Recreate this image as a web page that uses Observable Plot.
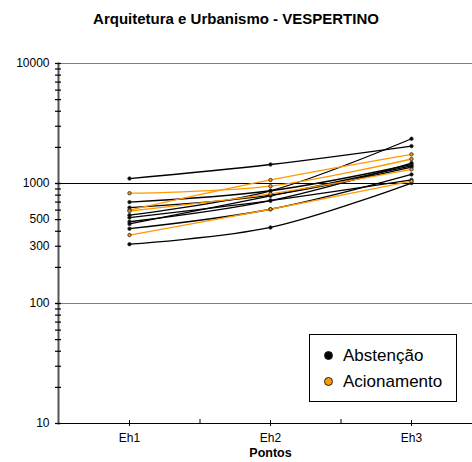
<!DOCTYPE html>
<html>
<head>
<meta charset="utf-8">
<script src="https://cdn.jsdelivr.net/npm/d3@7"></script>
<script src="https://cdn.jsdelivr.net/npm/@observablehq/plot@0.6"></script>
<style>
  html, body { margin: 0; padding: 0; background: #fff; }
  #wrap { position: relative; width: 472px; height: 462px; font-family: "Liberation Sans", Arial, sans-serif; overflow: hidden; }
  #title { position: absolute; left: 0; top: 10px; width: 472px; text-align: center; font-weight: bold; font-size: 15px; line-height: 18px; color: #000; }
  #legend { position: absolute; left: 309px; top: 334px; width: 146px; height: 66px; border: 1px solid #000; background: #fff; }
  .item { position: absolute; left: 14px; font-size: 17px; line-height: 20px; color: #000; white-space: nowrap; }
  .sw { display: inline-block; width: 9px; height: 9px; border-radius: 50%; margin-right: 10px; vertical-align: 1px; box-sizing: border-box; }
</style>
</head>
<body>
<div id="wrap">
  <div id="chart"></div>
  <div id="title">Arquitetura e Urbanismo - VESPERTINO</div>
  <div id="legend"></div>
</div>
<script>
const categories = ["Eh1", "Eh2", "Eh3"];
const seriesNames = ["Abstenção", "Acionamento"];
const seriesColors = ["#000000", "#FF9900"];
const abstencao = [
  [1100, 1440, 2050],
  [700, 870, 1440],
  [630, 800, 1370],
  [545, 870, 2360],
  [480, 720, 1480],
  [460, 790, 1400],
  [420, 610, 1190],
  [520, 720, 1070],
  [312, 430, 1008]
];
const acionamento = [
  [830, 950, 1600],
  [600, 1070, 1750],
  [590, 820, 1310],
  [372, 610, 1045]
];
const yTickLabels = [10, 100, 300, 500, 1000, 10000];

const rows = [];
[abstencao, acionamento].forEach((group, gi) => {
  group.forEach((vals, si) => {
    vals.forEach((v, ci) => rows.push({serie: seriesNames[gi], id: seriesNames[gi] + si, x: categories[ci], y: v}));
  });
});

const minorTicks = [];
for (const d of [10, 100, 1000]) for (let k = 1; k <= 10; k++) minorTicks.push(d * k);

const font = "'Liberation Sans', Arial, sans-serif";
const xRange = [58, 481];
const step = (xRange[1] - xRange[0]) / categories.length;

const chart = Plot.plot({
  width: 472,
  height: 462,
  marginLeft: 58,
  marginRight: 0,
  marginTop: 63,
  marginBottom: 39,
  style: {fontFamily: font, fontSize: "12px", background: "#fff", color: "#000"},
  x: {type: "point", domain: categories, range: xRange, padding: 0.5, axis: null},
  y: {type: "log", domain: [10, 10000], axis: null},
  color: {domain: seriesNames, range: seriesColors},
  marks: [
    Plot.ruleY([100, 10000], {stroke: "#808080", strokeWidth: 1}),
    Plot.ruleY([1000], {stroke: "#000", strokeWidth: 1}),
    Plot.line(rows.filter(d => d.serie === "Abstenção"), {x: "x", y: "y", z: "id", stroke: "serie", strokeWidth: 1.3, curve: "catmull-rom"}),
    Plot.line(rows.filter(d => d.serie === "Acionamento"), {x: "x", y: "y", z: "id", stroke: "serie", strokeWidth: 1.3, curve: "catmull-rom"}),
    Plot.dot(rows, {x: "x", y: "y", r: 1.7, fill: "serie", stroke: "#222", strokeWidth: 0.8}),
    Plot.ruleY([10], {stroke: "#000", strokeWidth: 1.2}),
    Plot.frame({anchor: "left", stroke: "#555", strokeWidth: 2}),
    Plot.axisY({ticks: minorTicks, text: null, label: null, tickSize: 6, dx: 3, stroke: "#000", strokeWidth: 1.2}),
    Plot.text(yTickLabels, {y: d => d, text: d => String(d), frameAnchor: "left", textAnchor: "end", dx: -9, fontSize: 12}),
    Plot.axisX({ticks: categories, text: null, label: null, tickSize: 6, dy: -3, stroke: "#000"}),
    Plot.axisX({ticks: categories.slice(1), text: null, label: null, tickSize: 4, dy: -4, dx: -step / 2, stroke: "#000"}),
    Plot.axisX({ticks: categories, tickSize: 0, tickPadding: 10, label: null, fontSize: 12}),
    Plot.text(["Pontos"], {x: () => categories[1], frameAnchor: "bottom", dy: 33, fontWeight: "bold", fontSize: 12.5})
  ]
});
document.getElementById("chart").appendChild(chart);

const legend = document.getElementById("legend");
seriesNames.forEach((name, i) => {
  const item = document.createElement("div");
  item.className = "item";
  item.style.top = (11 + i * 26) + "px";
  const sw = document.createElement("span");
  sw.className = "sw";
  sw.style.background = seriesColors[i];
  sw.style.border = "1px solid #222";
  item.appendChild(sw);
  item.appendChild(document.createTextNode(name));
  legend.appendChild(item);
});
</script>
</body>
</html>
